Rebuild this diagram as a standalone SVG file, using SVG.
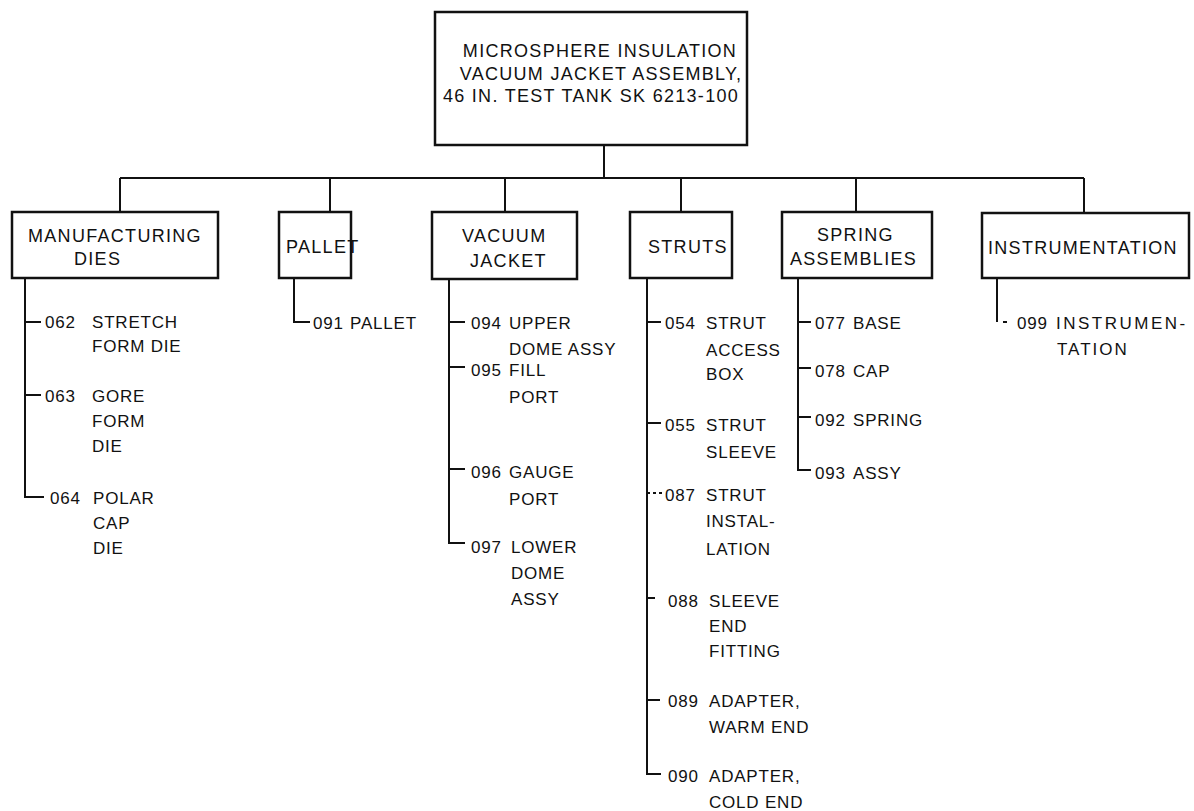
<svg xmlns="http://www.w3.org/2000/svg" width="1194" height="811" viewBox="0 0 1194 811">
<style>
.box{fill:#fff;stroke:#111;stroke-width:2.5}
.ln{fill:none;stroke:#111;stroke-width:2}
.bt{font-family:"Liberation Sans",Arial,sans-serif;font-size:18px;letter-spacing:1.3px;fill:#111}
.it{font-family:"Liberation Sans",Arial,sans-serif;font-size:17px;letter-spacing:0.8px;fill:#111}
</style>
<rect width="1194" height="811" fill="#fff"/>
<g id="connectors">
<path class="ln" d="M604 145V178M120 178H1084M120 178V212M330 178V212M505 178V212M681 178V212M856 178V212M1084 178V213"/>
<path class="ln" d="M25 278V497H44M25 322H41M25 395H41"/>
<path class="ln" d="M294 278V322H310"/>
<path class="ln" d="M449 278V543H465M449 322H465M449 367H465M449 469H465"/>
<path class="ln" d="M647 278V774H661M647 322H661M647 423H661M647 598H655M647 700H660"/>
<path class="ln" d="M647 493H662" stroke-dasharray="3 3"/>
<path class="ln" d="M798 278V470H811M798 322H811M798 368H811M798 417H811"/>
<path class="ln" d="M997 278V322M1003 322H1007"/>
</g>
<g id="root">
<rect class="box" x="435" y="12" width="312" height="133"/>
<text class="bt" text-anchor="middle"><tspan x="600" y="57">MICROSPHERE INSULATION</tspan><tspan x="601" y="80">VACUUM JACKET ASSEMBLY,</tspan><tspan x="591" y="102">46 IN. TEST TANK SK 6213-100</tspan></text>
</g>
<g id="manufacturing-dies">
<rect class="box" x="12" y="212" width="206" height="66"/>
<text class="bt"><tspan x="28" y="242">MANUFACTURING</tspan><tspan x="74" y="265">DIES</tspan></text>
</g>
<g id="pallet">
<rect class="box" x="279" y="212" width="72" height="66"/>
<text class="bt" x="286" y="253" font-size="17" letter-spacing="0">PALLET</text>
</g>
<g id="vacuum-jacket">
<rect class="box" x="432" y="212" width="145" height="67"/>
<text class="bt"><tspan x="462" y="242">VACUUM</tspan><tspan x="470" y="267">JACKET</tspan></text>
</g>
<g id="struts">
<rect class="box" x="630" y="212" width="102" height="66"/>
<text class="bt" x="648" y="253" letter-spacing="0">STRUTS</text>
</g>
<g id="spring-assemblies">
<rect class="box" x="782" y="212" width="150" height="66"/>
<text class="bt"><tspan x="817" y="241">SPRING</tspan><tspan x="790" y="265">ASSEMBLIES</tspan></text>
</g>
<g id="instrumentation">
<rect class="box" x="982" y="213" width="207" height="65"/>
<text class="bt" x="988" y="254">INSTRUMENTATION</text>
</g>
<g id="items-manufacturing">
<text class="it"><tspan x="45" y="328">062</tspan><tspan x="92" y="328">STRETCH</tspan><tspan x="92" y="352">FORM DIE</tspan></text>
<text class="it"><tspan x="45" y="402">063</tspan><tspan x="92" y="402">GORE</tspan><tspan x="92" y="427">FORM</tspan><tspan x="92" y="452">DIE</tspan></text>
<text class="it"><tspan x="50" y="504">064</tspan><tspan x="93" y="504">POLAR</tspan><tspan x="93" y="529">CAP</tspan><tspan x="93" y="554">DIE</tspan></text>
</g>
<g id="items-pallet">
<text class="it"><tspan x="313" y="329">091</tspan><tspan x="350" y="329">PALLET</tspan></text>
</g>
<g id="items-vacuum-jacket">
<text class="it"><tspan x="471" y="329">094</tspan><tspan x="509" y="329">UPPER</tspan><tspan x="509" y="355">DOME ASSY</tspan></text>
<text class="it"><tspan x="471" y="376">095</tspan><tspan x="509" y="376">FILL</tspan><tspan x="509" y="403">PORT</tspan></text>
<text class="it"><tspan x="471" y="478">096</tspan><tspan x="509" y="478">GAUGE</tspan><tspan x="509" y="505">PORT</tspan></text>
<text class="it"><tspan x="471" y="553">097</tspan><tspan x="511" y="553">LOWER</tspan><tspan x="511" y="579">DOME</tspan><tspan x="511" y="605">ASSY</tspan></text>
</g>
<g id="items-struts">
<text class="it"><tspan x="665" y="329">054</tspan><tspan x="706" y="329">STRUT</tspan><tspan x="706" y="356">ACCESS</tspan><tspan x="706" y="380">BOX</tspan></text>
<text class="it"><tspan x="665" y="431">055</tspan><tspan x="706" y="431">STRUT</tspan><tspan x="706" y="458">SLEEVE</tspan></text>
<text class="it"><tspan x="665" y="501">087</tspan><tspan x="706" y="501">STRUT</tspan><tspan x="706" y="527">INSTAL-</tspan><tspan x="706" y="555">LATION</tspan></text>
<text class="it"><tspan x="668" y="607">088</tspan><tspan x="709" y="607">SLEEVE</tspan><tspan x="709" y="632">END</tspan><tspan x="709" y="657">FITTING</tspan></text>
<text class="it"><tspan x="668" y="707">089</tspan><tspan x="709" y="707">ADAPTER,</tspan><tspan x="709" y="733">WARM END</tspan></text>
<text class="it"><tspan x="668" y="782">090</tspan><tspan x="709" y="782">ADAPTER,</tspan><tspan x="709" y="808">COLD END</tspan></text>
</g>
<g id="items-spring">
<text class="it"><tspan x="815" y="329">077</tspan><tspan x="853" y="329">BASE</tspan></text>
<text class="it"><tspan x="815" y="377">078</tspan><tspan x="853" y="377">CAP</tspan></text>
<text class="it"><tspan x="815" y="426">092</tspan><tspan x="853" y="426">SPRING</tspan></text>
<text class="it"><tspan x="815" y="479">093</tspan><tspan x="853" y="479">ASSY</tspan></text>
</g>
<g id="items-instrumentation">
<text class="it"><tspan x="1017" y="329">099</tspan><tspan x="1056" y="329" letter-spacing="2.5">INSTRUMEN-</tspan><tspan x="1057" y="355" letter-spacing="2">TATION</tspan></text>
</g>
</svg>
